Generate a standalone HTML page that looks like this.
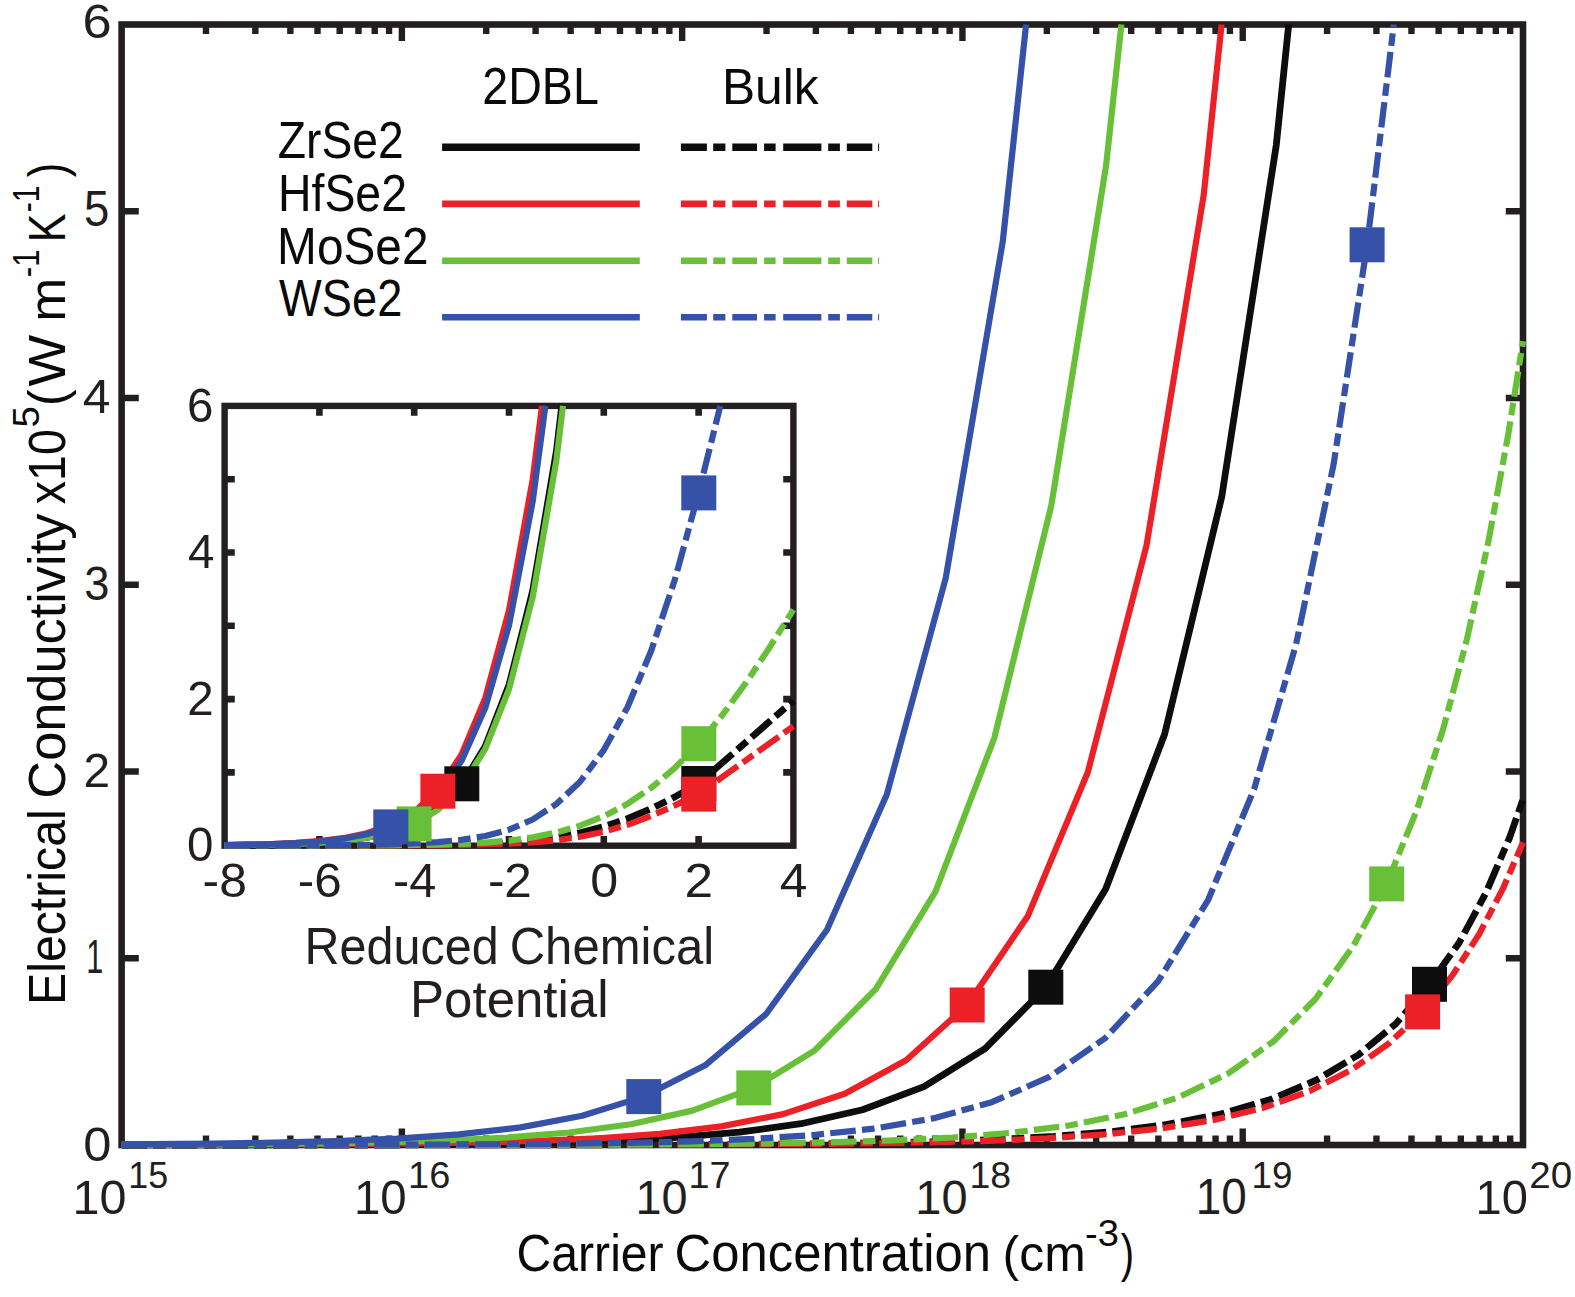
<!DOCTYPE html>
<html lang="en"><head><meta charset="utf-8"><title>Electrical conductivity vs carrier concentration</title>
<style>html,body{margin:0;padding:0;background:#fff}svg{display:block}text{font-family:"Liberation Sans",Arial,sans-serif;font-kerning:none;white-space:pre}</style></head><body>
<svg width="1575" height="1297" viewBox="0 0 1575 1297">
<rect width="1575" height="1297" fill="#fff"/>
<g stroke="#231f20" stroke-width="6.6" fill="none" stroke-linecap="butt">
<rect x="121.6" y="24.5" width="1401.4" height="1120.5"/>
<path d="M121.6,958.25h17.2 M1523.0,958.25h-17.2 M121.6,771.50h17.2 M1523.0,771.50h-17.2 M121.6,584.75h17.2 M1523.0,584.75h-17.2 M121.6,398.00h17.2 M1523.0,398.00h-17.2 M121.6,211.25h17.2 M1523.0,211.25h-17.2 M205.97,1145.0v-9.6 M205.97,24.5v9.6 M255.33,1145.0v-9.6 M255.33,24.5v9.6 M290.35,1145.0v-9.6 M290.35,24.5v9.6 M317.51,1145.0v-9.6 M317.51,24.5v9.6 M339.70,1145.0v-9.6 M339.70,24.5v9.6 M358.46,1145.0v-9.6 M358.46,24.5v9.6 M374.72,1145.0v-9.6 M374.72,24.5v9.6 M389.06,1145.0v-9.6 M389.06,24.5v9.6 M401.88,1145.0v-16.6 M401.88,24.5v16.6 M486.25,1145.0v-9.6 M486.25,24.5v9.6 M535.61,1145.0v-9.6 M535.61,24.5v9.6 M570.63,1145.0v-9.6 M570.63,24.5v9.6 M597.79,1145.0v-9.6 M597.79,24.5v9.6 M619.98,1145.0v-9.6 M619.98,24.5v9.6 M638.74,1145.0v-9.6 M638.74,24.5v9.6 M655.00,1145.0v-9.6 M655.00,24.5v9.6 M669.34,1145.0v-9.6 M669.34,24.5v9.6 M682.16,1145.0v-16.6 M682.16,24.5v16.6 M766.53,1145.0v-9.6 M766.53,24.5v9.6 M815.89,1145.0v-9.6 M815.89,24.5v9.6 M850.91,1145.0v-9.6 M850.91,24.5v9.6 M878.07,1145.0v-9.6 M878.07,24.5v9.6 M900.26,1145.0v-9.6 M900.26,24.5v9.6 M919.02,1145.0v-9.6 M919.02,24.5v9.6 M935.28,1145.0v-9.6 M935.28,24.5v9.6 M949.62,1145.0v-9.6 M949.62,24.5v9.6 M962.44,1145.0v-16.6 M962.44,24.5v16.6 M1046.81,1145.0v-9.6 M1046.81,24.5v9.6 M1096.17,1145.0v-9.6 M1096.17,24.5v9.6 M1131.19,1145.0v-9.6 M1131.19,24.5v9.6 M1158.35,1145.0v-9.6 M1158.35,24.5v9.6 M1180.54,1145.0v-9.6 M1180.54,24.5v9.6 M1199.30,1145.0v-9.6 M1199.30,24.5v9.6 M1215.56,1145.0v-9.6 M1215.56,24.5v9.6 M1229.90,1145.0v-9.6 M1229.90,24.5v9.6 M1242.72,1145.0v-16.6 M1242.72,24.5v16.6 M1327.09,1145.0v-9.6 M1327.09,24.5v9.6 M1376.45,1145.0v-9.6 M1376.45,24.5v9.6 M1411.47,1145.0v-9.6 M1411.47,24.5v9.6 M1438.63,1145.0v-9.6 M1438.63,24.5v9.6 M1460.82,1145.0v-9.6 M1460.82,24.5v9.6 M1479.58,1145.0v-9.6 M1479.58,24.5v9.6 M1495.84,1145.0v-9.6 M1495.84,24.5v9.6 M1510.18,1145.0v-9.6 M1510.18,24.5v9.6" stroke-width="6.4"/>
</g>
<g fill="none" stroke-linecap="butt" stroke-linejoin="round">
<path d="M121.6,1144.9 L183.1,1144.9 L244.9,1144.8 L306.8,1144.6 L368.6,1144.4 L430.4,1144.0 L492.3,1143.3 L554.1,1142.2 L615.9,1140.3 L677.6,1137.3 L739.4,1132.2 L801.1,1123.7 L862.6,1109.7 L924.0,1086.6 L985.1,1048.7 L1045.8,987.2 L1105.7,889.0 L1164.6,734.3 L1221.7,496.9 L1276.3,144.9 L1288.7,24.5" stroke="#0d0d0d" stroke-width="6.8"/>
<path d="M121.6,1145.0 L146.8,1145.0 L207.6,1145.0 L268.5,1145.0 L329.3,1145.0 L390.2,1145.0 L451.0,1144.9 L511.9,1144.9 L572.7,1144.8 L633.5,1144.7 L694.2,1144.5 L754.9,1144.2 L815.5,1143.8 L875.8,1143.0 L935.9,1141.7 L995.4,1139.6 L1054.1,1136.4 L1111.7,1131.6 L1167.4,1124.4 L1220.6,1114.1 L1270.6,1099.5 L1316.6,1080.0 L1358.5,1054.8 L1396.0,1023.6 L1429.5,984.3 L1459.3,942.5 L1485.9,892.9 L1509.7,837.3 L1523.0,799.4" stroke="#0d0d0d" stroke-width="6.8" stroke-dasharray="25.5 6.2 12.6 6.2 25.5 6.2 12.6 6.2 25.5 6.2 12.6 6.2 25.5 6.2 12.6 6.2 25.5 6.2 12.6 6.2 25.5 6.2 12.6 6.2 25.5 6.2 12.6 6.2 25.5 6.2 12.6 6.2 25.5 6.2 12.6 6.2 25.5 6.2 12.6 6.2 25.5 6.2 12.6 6.2 25.5 6.2 12.6 6.2 25.5 6.2 12.6 6.2 25.5 6.2 12.6 6.2 25.5 6.2 12.6 6.2 25.5 6.2 12.6 6.2 25.5 6.2 12.6 6.2 25.5 6.2 12.6 6.2 25.5 6.2 12.6 6.2 25.5 6.2 12.6 6.2 25.5 6.2 12.6 6.2 25.5 6.2 12.6 6.2 25.5 6.2 12.6 6.2 25.5 6.2 12.6 6.2 25.5 6.2 12.6 6.2 25.5 6.2 12.6 6.2 25.5 6.2 12.6 6.2 25.5 6.2 12.6 6.2 25.5 6.2 12.6 6.2 25.5 6.2 12.6 6.2 25.5 6.2 12.6 6.2 25.5 6.2 12.6 6.2 25.5 6.2 12.6 6.2"/>
<path d="M121.6,1144.9 L165.2,1144.8 L227.0,1144.7 L288.8,1144.5 L350.7,1144.1 L412.5,1143.5 L474.3,1142.6 L536.1,1140.9 L597.9,1138.3 L659.7,1133.8 L721.4,1126.4 L783.1,1114.1 L844.7,1093.8 L906.1,1060.3 L967.2,1005.0 L1027.9,915.9 L1087.8,772.2 L1146.6,545.1 L1203.7,195.1 L1221.6,24.5" stroke="#ec2027" stroke-width="6.2"/>
<path d="M121.6,1145.0 L139.9,1145.0 L200.7,1145.0 L261.6,1145.0 L322.4,1145.0 L383.3,1145.0 L444.1,1145.0 L505.0,1144.9 L565.8,1144.9 L626.6,1144.8 L687.3,1144.6 L748.0,1144.4 L808.6,1144.0 L868.9,1143.4 L929.0,1142.4 L988.5,1140.8 L1047.2,1138.3 L1104.8,1134.4 L1160.5,1128.5 L1213.7,1119.9 L1263.7,1107.7 L1309.7,1091.1 L1351.6,1069.7 L1389.1,1043.3 L1422.6,1011.9 L1452.4,975.4 L1479.0,934.4 L1502.8,888.9 L1523.0,842.4" stroke="#ec2027" stroke-width="6.2" stroke-dasharray="25.5 6.2 12.6 6.2 25.5 6.2 12.6 6.2 25.5 6.2 12.6 6.2 25.5 6.2 12.6 6.2 25.5 6.2 12.6 6.2 25.5 6.2 12.6 6.2 25.5 6.2 12.6 6.2 25.5 6.2 12.6 6.2 25.5 6.2 12.6 6.2 25.5 6.2 12.6 6.2 25.5 6.2 12.6 6.2 25.5 6.2 12.6 6.2 25.5 6.2 12.6 6.2 25.5 6.2 12.6 6.2 25.5 6.2 12.6 6.2 25.5 6.2 12.6 6.2 25.5 6.2 12.6 6.2 25.5 6.2 12.6 6.2 25.5 6.2 12.6 6.2 25.5 6.2 12.6 6.2 25.5 6.2 12.6 6.2 25.5 6.2 12.6 6.2 25.5 6.2 12.6 6.2 25.5 6.2 12.6 6.2 25.5 6.2 12.6 6.2 25.5 6.2 12.6 6.2 25.5 6.2 12.6 6.2 25.5 6.2 12.6 6.2 25.5 6.2 12.6 6.2 25.5 6.2 12.6 6.2 25.5 6.2 12.6 6.2 25.5 6.2 12.6 6.2 25.5 6.2 12.6 6.2"/>
<path d="M121.6,1144.7 L136.6,1144.6 L198.4,1144.4 L260.2,1144.0 L322.0,1143.4 L383.9,1142.3 L445.7,1140.5 L507.4,1137.5 L569.2,1132.5 L630.8,1124.3 L692.4,1110.6 L753.8,1087.9 L814.9,1050.3 L875.6,989.3 L935.5,891.5 L994.3,738.1 L1051.4,505.1 L1106.1,165.4 L1121.4,24.5" stroke="#68c039" stroke-width="6.2"/>
<path d="M121.6,1145.0 L164.8,1145.0 L225.7,1145.0 L286.5,1145.0 L347.4,1144.9 L408.2,1144.9 L469.1,1144.9 L529.9,1144.8 L590.7,1144.6 L651.4,1144.4 L712.1,1144.0 L772.7,1143.3 L833.0,1142.2 L893.1,1140.4 L952.6,1137.5 L1011.3,1132.8 L1068.9,1125.5 L1124.6,1114.3 L1177.8,1097.6 L1227.8,1073.7 L1273.8,1041.1 L1315.7,998.7 L1353.2,946.1 L1386.7,883.9 L1416.5,810.9 L1443.1,729.3 L1466.9,639.3 L1488.4,541.5 L1507.9,436.4 L1523.0,341.2" stroke="#68c039" stroke-width="6.2" stroke-dasharray="25.5 6.2 12.6 6.2 25.5 6.2 12.6 6.2 25.5 6.2 12.6 6.2 25.5 6.2 12.6 6.2 25.5 6.2 12.6 6.2 25.5 6.2 12.6 6.2 25.5 6.2 12.6 6.2 25.5 6.2 12.6 6.2 25.69 6.25 12.69 6.25 25.69 6.25 12.69 6.25 25.69 6.25 12.69 6.25 25.69 6.25 12.69 6.25 25.69 6.25 12.69 6.25 25.69 6.25 12.69 6.25 25.69 6.25 12.69 6.25 25.69 6.25 12.69 6.25 25.69 6.25 12.69 6.25 25.69 6.25 12.69 6.25 25.5 6.2 12.6 6.2 25.5 6.2 12.6 6.2 25.5 6.2 12.6 6.2 25.5 6.2 12.6 6.2 25.5 6.2 12.6 6.2 25.5 6.2 12.6 6.2 25.5 6.2 12.6 6.2 25.5 6.2 12.6 6.2 25.5 6.2 12.6 6.2 25.5 6.2 12.6 6.2 25.5 6.2 12.6 6.2 25.5 6.2 12.6 6.2 25.5 6.2 12.6 6.2 25.5 6.2 12.6 6.2 25.5 6.2 12.6 6.2 25.5 6.2 12.6 6.2 25.5 6.2 12.6 6.2 25.5 6.2 12.6 6.2 25.5 6.2 12.6 6.2 25.5 6.2 12.6 6.2 25.5 6.2 12.6 6.2 25.5 6.2 12.6 6.2 25.5 6.2 12.6 6.2"/>
<path d="M121.6,1144.3 L149.8,1144.2 L211.6,1143.6 L273.4,1142.7 L335.2,1141.2 L397.0,1138.6 L458.8,1134.4 L520.6,1127.4 L582.2,1115.8 L643.8,1096.6 L705.2,1065.3 L766.3,1013.8 L827.0,929.8 L886.9,794.2 L945.7,578.2 L1002.8,241.3 L1026.1,24.5" stroke="#3551a8" stroke-width="6.2"/>
<path d="M121.6,1145.0 L145.2,1145.0 L206.1,1144.9 L266.9,1144.9 L327.8,1144.8 L388.6,1144.7 L449.5,1144.5 L510.3,1144.2 L571.1,1143.6 L631.8,1142.8 L692.5,1141.3 L753.1,1138.9 L813.4,1135.0 L873.5,1128.7 L933.0,1118.4 L991.7,1102.2 L1049.3,1076.9 L1105.0,1038.3 L1158.2,981.2 L1208.2,899.8 L1254.2,788.8 L1296.1,644.3 L1333.6,464.4 L1367.1,244.8 L1393.8,24.5" stroke="#3551a8" stroke-width="6.2" stroke-dasharray="25.5 6.2 12.6 6.2 25.5 6.2 12.6 6.2 25.5 6.2 12.6 6.2 25.5 6.2 12.6 6.2 25.5 6.2 12.6 6.2 25.5 6.2 12.6 6.2 25.5 6.2 12.6 6.2 25.5 6.2 12.6 6.2 25.66 6.24 12.68 6.24 25.66 6.24 12.68 6.24 25.66 6.24 12.68 6.24 25.66 6.24 12.68 6.24 25.66 6.24 12.68 6.24 25.66 6.24 12.68 6.24 25.66 6.24 12.68 6.24 25.66 6.24 12.68 6.24 25.66 6.24 12.68 6.24 25.66 6.24 12.68 6.24 25.5 6.2 12.6 6.2 25.5 6.2 12.6 6.2 25.5 6.2 12.6 6.2 25.5 6.2 12.6 6.2 25.5 6.2 12.6 6.2 25.5 6.2 12.6 6.2 25.5 6.2 12.6 6.2 25.5 6.2 12.6 6.2 25.5 6.2 12.6 6.2 25.5 6.2 12.6 6.2 25.5 6.2 12.6 6.2 25.5 6.2 12.6 6.2 25.5 6.2 12.6 6.2 25.5 6.2 12.6 6.2 25.5 6.2 12.6 6.2 25.5 6.2 12.6 6.2 25.5 6.2 12.6 6.2 25.5 6.2 12.6 6.2 25.5 6.2 12.6 6.2 25.5 6.2 12.6 6.2 25.5 6.2 12.6 6.2 25.5 6.2 12.6 6.2 25.5 6.2 12.6 6.2 25.5 6.2 12.6 6.2 25.5 6.2 12.6 6.2 25.5 6.2 12.6 6.2"/>
<rect x="1028.3" y="969.7" width="35.0" height="35.0" fill="#0d0d0d"/>
<rect x="949.7" y="987.5" width="35.0" height="35.0" fill="#ec2027"/>
<rect x="736.3" y="1070.4" width="35.0" height="35.0" fill="#68c039"/>
<rect x="626.3" y="1079.1" width="35.0" height="35.0" fill="#3551a8"/>
<rect x="1412.0" y="966.8" width="35.0" height="35.0" fill="#0d0d0d"/>
<rect x="1405.1" y="994.4" width="35.0" height="35.0" fill="#ec2027"/>
<rect x="1369.2" y="866.4" width="35.0" height="35.0" fill="#68c039"/>
<rect x="1349.6" y="227.3" width="35.0" height="35.0" fill="#3551a8"/>
</g>
<g fill="none" stroke-linecap="butt">
<path d="M442.1,147.2H639.8" stroke="#0d0d0d" stroke-width="7.4"/>
<path d="M680.9,147.2H706.9 M713.2,147.2H725.4 M732.3,147.2H757.0 M764.1,147.2H775.6 M783.2,147.2H821.4 M828.2,147.2H839.9 M846.8,147.2H872.3 M878.1,147.2H879.1" stroke="#0d0d0d" stroke-width="7.4"/>
<path d="M442.1,203.9H639.8" stroke="#ec2027" stroke-width="6.6"/>
<path d="M680.9,203.9H706.9 M713.2,203.9H725.4 M732.3,203.9H757.0 M764.1,203.9H775.6 M783.2,203.9H821.4 M828.2,203.9H839.9 M846.8,203.9H872.3 M878.1,203.9H879.1" stroke="#ec2027" stroke-width="6.6"/>
<path d="M442.1,260.8H639.8" stroke="#68c039" stroke-width="6.6"/>
<path d="M680.9,260.8H706.9 M713.2,260.8H725.4 M732.3,260.8H757.0 M764.1,260.8H775.6 M783.2,260.8H821.4 M828.2,260.8H839.9 M846.8,260.8H872.3 M878.1,260.8H879.1" stroke="#68c039" stroke-width="6.6"/>
<path d="M442.1,317.2H639.8" stroke="#3551a8" stroke-width="6.6"/>
<path d="M680.9,317.2H706.9 M713.2,317.2H725.4 M732.3,317.2H757.0 M764.1,317.2H775.6 M783.2,317.2H821.4 M828.2,317.2H839.9 M846.8,317.2H872.3 M878.1,317.2H879.1" stroke="#3551a8" stroke-width="6.6"/>
</g>
<text transform="translate(482.26 103.90) scale(0.9157 1)" font-size="50.9" fill="#0a0a0a">2DBL</text>
<text transform="translate(721.92 103.90) scale(0.9777 1)" font-size="50.9" fill="#0a0a0a">Bulk</text>
<text transform="translate(277.83 158.10) scale(0.9083 1)" font-size="50.9" fill="#0a0a0a">ZrSe2</text>
<text transform="translate(277.99 210.80) scale(0.9122 1)" font-size="50.9" fill="#0a0a0a">HfSe2</text>
<text transform="translate(277.08 263.50) scale(0.9389 1)" font-size="50.9" fill="#0a0a0a">MoSe2</text>
<text transform="translate(279.10 316.00) scale(0.8894 1)" font-size="50.9" fill="#0a0a0a">WSe2</text>
<rect x="224.6" y="405.9" width="568.8" height="439.8" fill="#fff" stroke="none"/>
<g stroke="#231f20" stroke-width="6.4" fill="none">
<rect x="224.6" y="405.9" width="568.8" height="439.8"/>
<path d="M224.6,772.40h10.2 M793.4,772.40h-10.2 M224.6,699.10h10.2 M793.4,699.10h-10.2 M224.6,625.80h10.2 M793.4,625.80h-10.2 M224.6,552.50h10.2 M793.4,552.50h-10.2 M224.6,479.20h10.2 M793.4,479.20h-10.2 M319.40,845.7v-9.8 M319.40,405.9v9.8 M414.20,845.7v-9.8 M414.20,405.9v9.8 M509.00,845.7v-9.8 M509.00,405.9v9.8 M603.80,845.7v-9.8 M603.80,405.9v9.8 M698.60,845.7v-9.8 M698.60,405.9v9.8" stroke-width="6.6"/>
</g>
<g fill="none" stroke-linecap="butt" stroke-linejoin="round">
<path d="M224.6,845.3 L248.3,845.0 L272.0,844.6 L295.7,843.9 L319.4,842.7 L343.1,840.7 L366.8,837.5 L390.5,832.1 L414.2,823.4 L437.9,808.8 L461.6,785.0 L485.3,746.3 L509.0,685.1 L532.7,590.9 L556.4,451.3 L561.8,405.9" stroke="#0d0d0d" stroke-width="6.8"/>
<path d="M224.6,845.7 L248.3,845.7 L272.0,845.7 L295.7,845.7 L319.4,845.6 L343.1,845.6 L366.8,845.5 L390.5,845.4 L414.2,845.3 L437.9,845.0 L461.6,844.5 L485.3,843.8 L509.0,842.5 L532.7,840.4 L556.4,837.3 L580.1,832.8 L603.8,826.7 L627.5,818.7 L651.2,808.7 L674.9,796.9 L698.6,783.5 L722.3,762.8 L746.0,742.1 L769.7,721.4 L793.4,700.7 L793.4,700.7" stroke="#0d0d0d" stroke-width="6.8" stroke-dasharray="25.5 6.2 12.6 6.2"/>
<path d="M224.6,845.1 L248.3,844.7 L272.0,844.0 L295.7,842.9 L319.4,841.1 L343.1,838.2 L366.8,833.3 L390.5,825.2 L414.2,812.0 L437.9,790.1 L461.6,754.5 L485.3,697.9 L509.0,610.3 L532.7,479.5 L542.0,405.9" stroke="#ec2027" stroke-width="6.2"/>
<path d="M224.6,845.7 L248.3,845.7 L272.0,845.7 L295.7,845.7 L319.4,845.7 L343.1,845.6 L366.8,845.6 L390.5,845.5 L414.2,845.4 L437.9,845.3 L461.6,845.0 L485.3,844.5 L509.0,843.7 L532.7,842.4 L556.4,840.3 L580.1,836.8 L603.8,831.8 L627.5,824.8 L651.2,815.9 L674.9,805.4 L698.6,794.1 L722.3,777.1 L746.0,760.2 L769.7,743.2 L793.4,726.2 L793.4,726.2" stroke="#ec2027" stroke-width="6.2" stroke-dasharray="25.5 6.2 12.6 6.2"/>
<path d="M224.6,845.3 L248.3,845.0 L272.0,844.6 L295.7,843.9 L319.4,842.8 L343.1,840.8 L366.8,837.7 L390.5,832.5 L414.2,824.0 L437.9,809.8 L461.6,786.6 L485.3,748.9 L509.0,689.2 L532.7,597.1 L556.4,460.2 L563.0,405.9" stroke="#68c039" stroke-width="6.2"/>
<path d="M224.6,845.7 L248.3,845.7 L272.0,845.7 L295.7,845.6 L319.4,845.6 L343.1,845.5 L366.8,845.4 L390.5,845.3 L414.2,845.0 L437.9,844.6 L461.6,843.8 L485.3,842.6 L509.0,840.6 L532.7,837.4 L556.4,832.5 L580.1,825.7 L603.8,816.3 L627.5,803.8 L651.2,787.8 L674.9,767.8 L698.6,743.7 L722.3,715.1 L746.0,682.7 L769.7,647.2 L793.4,609.6 L793.4,609.6" stroke="#68c039" stroke-width="6.2" stroke-dasharray="25.5 6.2 12.6 6.2"/>
<path d="M224.6,845.1 L248.3,844.8 L272.0,844.1 L295.7,843.1 L319.4,841.5 L343.1,838.7 L366.8,834.2 L390.5,826.7 L414.2,814.4 L437.9,794.0 L461.6,760.8 L485.3,707.8 L509.0,625.3 L532.7,501.4 L545.4,405.9" stroke="#3551a8" stroke-width="6.2"/>
<path d="M224.6,845.7 L248.3,845.6 L272.0,845.6 L295.7,845.5 L319.4,845.4 L343.1,845.2 L366.8,844.9 L390.5,844.4 L414.2,843.5 L437.9,842.1 L461.6,839.8 L485.3,836.0 L509.0,829.7 L532.7,819.5 L556.4,804.0 L580.1,781.7 L603.8,750.1 L627.5,707.2 L651.2,650.8 L674.9,579.5 L698.6,492.9 L720.3,405.9" stroke="#3551a8" stroke-width="6.2" stroke-dasharray="25.5 6.2 12.6 6.2"/>
<rect x="444.3" y="766.3" width="35.0" height="35.0" fill="#0d0d0d"/>
<rect x="420.4" y="773.7" width="35.0" height="35.0" fill="#ec2027"/>
<rect x="396.6" y="806.4" width="35.0" height="35.0" fill="#68c039"/>
<rect x="373.3" y="809.4" width="35.0" height="35.0" fill="#3551a8"/>
<rect x="681.3" y="766.0" width="35.0" height="35.0" fill="#0d0d0d"/>
<rect x="681.3" y="776.6" width="35.0" height="35.0" fill="#ec2027"/>
<rect x="681.3" y="726.2" width="35.0" height="35.0" fill="#68c039"/>
<rect x="681.3" y="475.4" width="35.0" height="35.0" fill="#3551a8"/>
</g>
<text transform="translate(202.58 896.60) scale(1.0188 1)" font-size="49.0" fill="#231f20">-8</text>
<text transform="translate(297.80 896.60) scale(1.0092 1)" font-size="49.0" fill="#231f20">-6</text>
<text transform="translate(393.04 896.60) scale(0.9936 1)" font-size="49.0" fill="#231f20">-4</text>
<text transform="translate(487.90 896.60) scale(1.0096 1)" font-size="49.0" fill="#231f20">-2</text>
<text transform="translate(590.34 896.60) scale(1.0246 1)" font-size="49.0" fill="#231f20">0</text>
<text transform="translate(684.52 896.60) scale(1.0483 1)" font-size="49.0" fill="#231f20">2</text>
<text transform="translate(779.76 896.60) scale(1.0165 1)" font-size="49.0" fill="#231f20">4</text>
<text transform="translate(186.92 861.30) scale(0.9700 1)" font-size="49.0" fill="#231f20">0</text>
<text transform="translate(187.26 714.70) scale(0.9700 1)" font-size="49.0" fill="#231f20">2</text>
<text transform="translate(187.96 568.10) scale(0.9700 1)" font-size="49.0" fill="#231f20">4</text>
<text transform="translate(186.95 421.50) scale(0.9700 1)" font-size="49.0" fill="#231f20">6</text>
<text transform="translate(304.62 964.30) scale(0.9521 1)" font-size="50.9" fill="#231f20">Reduced</text>
<text transform="translate(509.71 964.30) scale(0.9633 1)" font-size="50.9" fill="#231f20">Chemical</text>
<text transform="translate(410.12 1017.40) scale(1.0016 1)" font-size="50.9" fill="#231f20">Potential</text>
<text transform="translate(82.54 37.90) scale(1.0703 1)" font-size="49.0" fill="#231f20">6</text>
<text transform="translate(83.88 226.25) scale(0.9298 1)" font-size="49.0" fill="#231f20">5</text>
<text transform="translate(82.76 413.00) scale(1.0165 1)" font-size="49.0" fill="#231f20">4</text>
<text transform="translate(84.27 599.75) scale(0.9255 1)" font-size="49.0" fill="#231f20">3</text>
<text transform="translate(83.59 786.50) scale(0.9766 1)" font-size="49.0" fill="#231f20">2</text>
<text transform="translate(86.37 973.25) scale(0.6248 1)" font-size="49.0" fill="#231f20">1</text>
<text transform="translate(83.22 1161.00) scale(1.0332 1)" font-size="49.0" fill="#231f20">0</text>
<text transform="translate(72.60 1214.00) scale(0.9907 1)" font-size="49.0" fill="#231f20">10</text>
<text transform="translate(128.26 1188.00) scale(0.9602 1)" font-size="37.4" fill="#231f20">15</text>
<text transform="translate(353.89 1214.00) scale(0.9681 1)" font-size="49.0" fill="#231f20">10</text>
<text transform="translate(408.01 1188.00) scale(1.0160 1)" font-size="37.4" fill="#231f20">16</text>
<text transform="translate(635.43 1214.00) scale(0.9559 1)" font-size="49.0" fill="#231f20">10</text>
<text transform="translate(688.53 1188.00) scale(1.0089 1)" font-size="37.4" fill="#231f20">17</text>
<text transform="translate(915.32 1214.00) scale(0.9579 1)" font-size="49.0" fill="#231f20">10</text>
<text transform="translate(969.55 1188.00) scale(0.9993 1)" font-size="37.4" fill="#231f20">18</text>
<text transform="translate(1195.70 1214.00) scale(0.9374 1)" font-size="49.0" fill="#231f20">10</text>
<text transform="translate(1251.60 1188.00) scale(0.9843 1)" font-size="37.4" fill="#231f20">19</text>
<text transform="translate(1475.51 1214.00) scale(0.9620 1)" font-size="49.0" fill="#231f20">10</text>
<text transform="translate(1529.26 1188.00) scale(1.0325 1)" font-size="37.4" fill="#231f20">20</text>
<text transform="translate(516.55 1271.30) scale(0.9461 1)" font-size="50.9" fill="#0a0a0a">Carrier</text>
<text transform="translate(674.52 1271.30) scale(0.9990 1)" font-size="50.9" fill="#0a0a0a">Concentration</text>
<text transform="translate(1002.61 1271.30) scale(0.9797 1)" font-size="50.9" fill="#0a0a0a">(cm</text>
<text transform="translate(1085.01 1245.90) scale(1.0184 1)" font-size="37.4" fill="#0a0a0a">-3</text>
<text transform="translate(1120.77 1271.30) scale(0.7854 1)" font-size="50.9" fill="#0a0a0a">)</text>
<text transform="translate(64.70 1004.96) rotate(-90) scale(0.9477 1)" font-size="50.9" fill="#0a0a0a">Electrical</text>
<text transform="translate(64.70 798.66) rotate(-90) scale(1.0282 1)" font-size="50.9" fill="#0a0a0a">Conductivity</text>
<text transform="translate(64.70 504.22) rotate(-90) scale(0.9144 1)" font-size="50.9" fill="#0a0a0a">x10</text>
<text transform="translate(38.80 427.54) rotate(-90) scale(1.0264 1)" font-size="37.4" fill="#0a0a0a">5</text>
<text transform="translate(64.70 405.89) rotate(-90) scale(0.9781 1)" font-size="50.9" fill="#0a0a0a">(</text>
<text transform="translate(64.70 386.54) rotate(-90) scale(1.0767 1)" font-size="50.9" fill="#0a0a0a">W</text>
<text transform="translate(64.70 321.71) rotate(-90) scale(1.0374 1)" font-size="50.9" fill="#0a0a0a">m</text>
<text transform="translate(38.80 277.18) rotate(-90) scale(0.8331 1)" font-size="37.4" fill="#0a0a0a">-1</text>
<text transform="translate(64.70 242.23) rotate(-90) scale(0.8458 1)" font-size="50.9" fill="#0a0a0a">K</text>
<text transform="translate(38.80 212.34) rotate(-90) scale(0.8063 1)" font-size="37.4" fill="#0a0a0a">-1</text>
<text transform="translate(64.70 177.26) rotate(-90) scale(0.8595 1)" font-size="50.9" fill="#0a0a0a">)</text>
</svg></body></html>
